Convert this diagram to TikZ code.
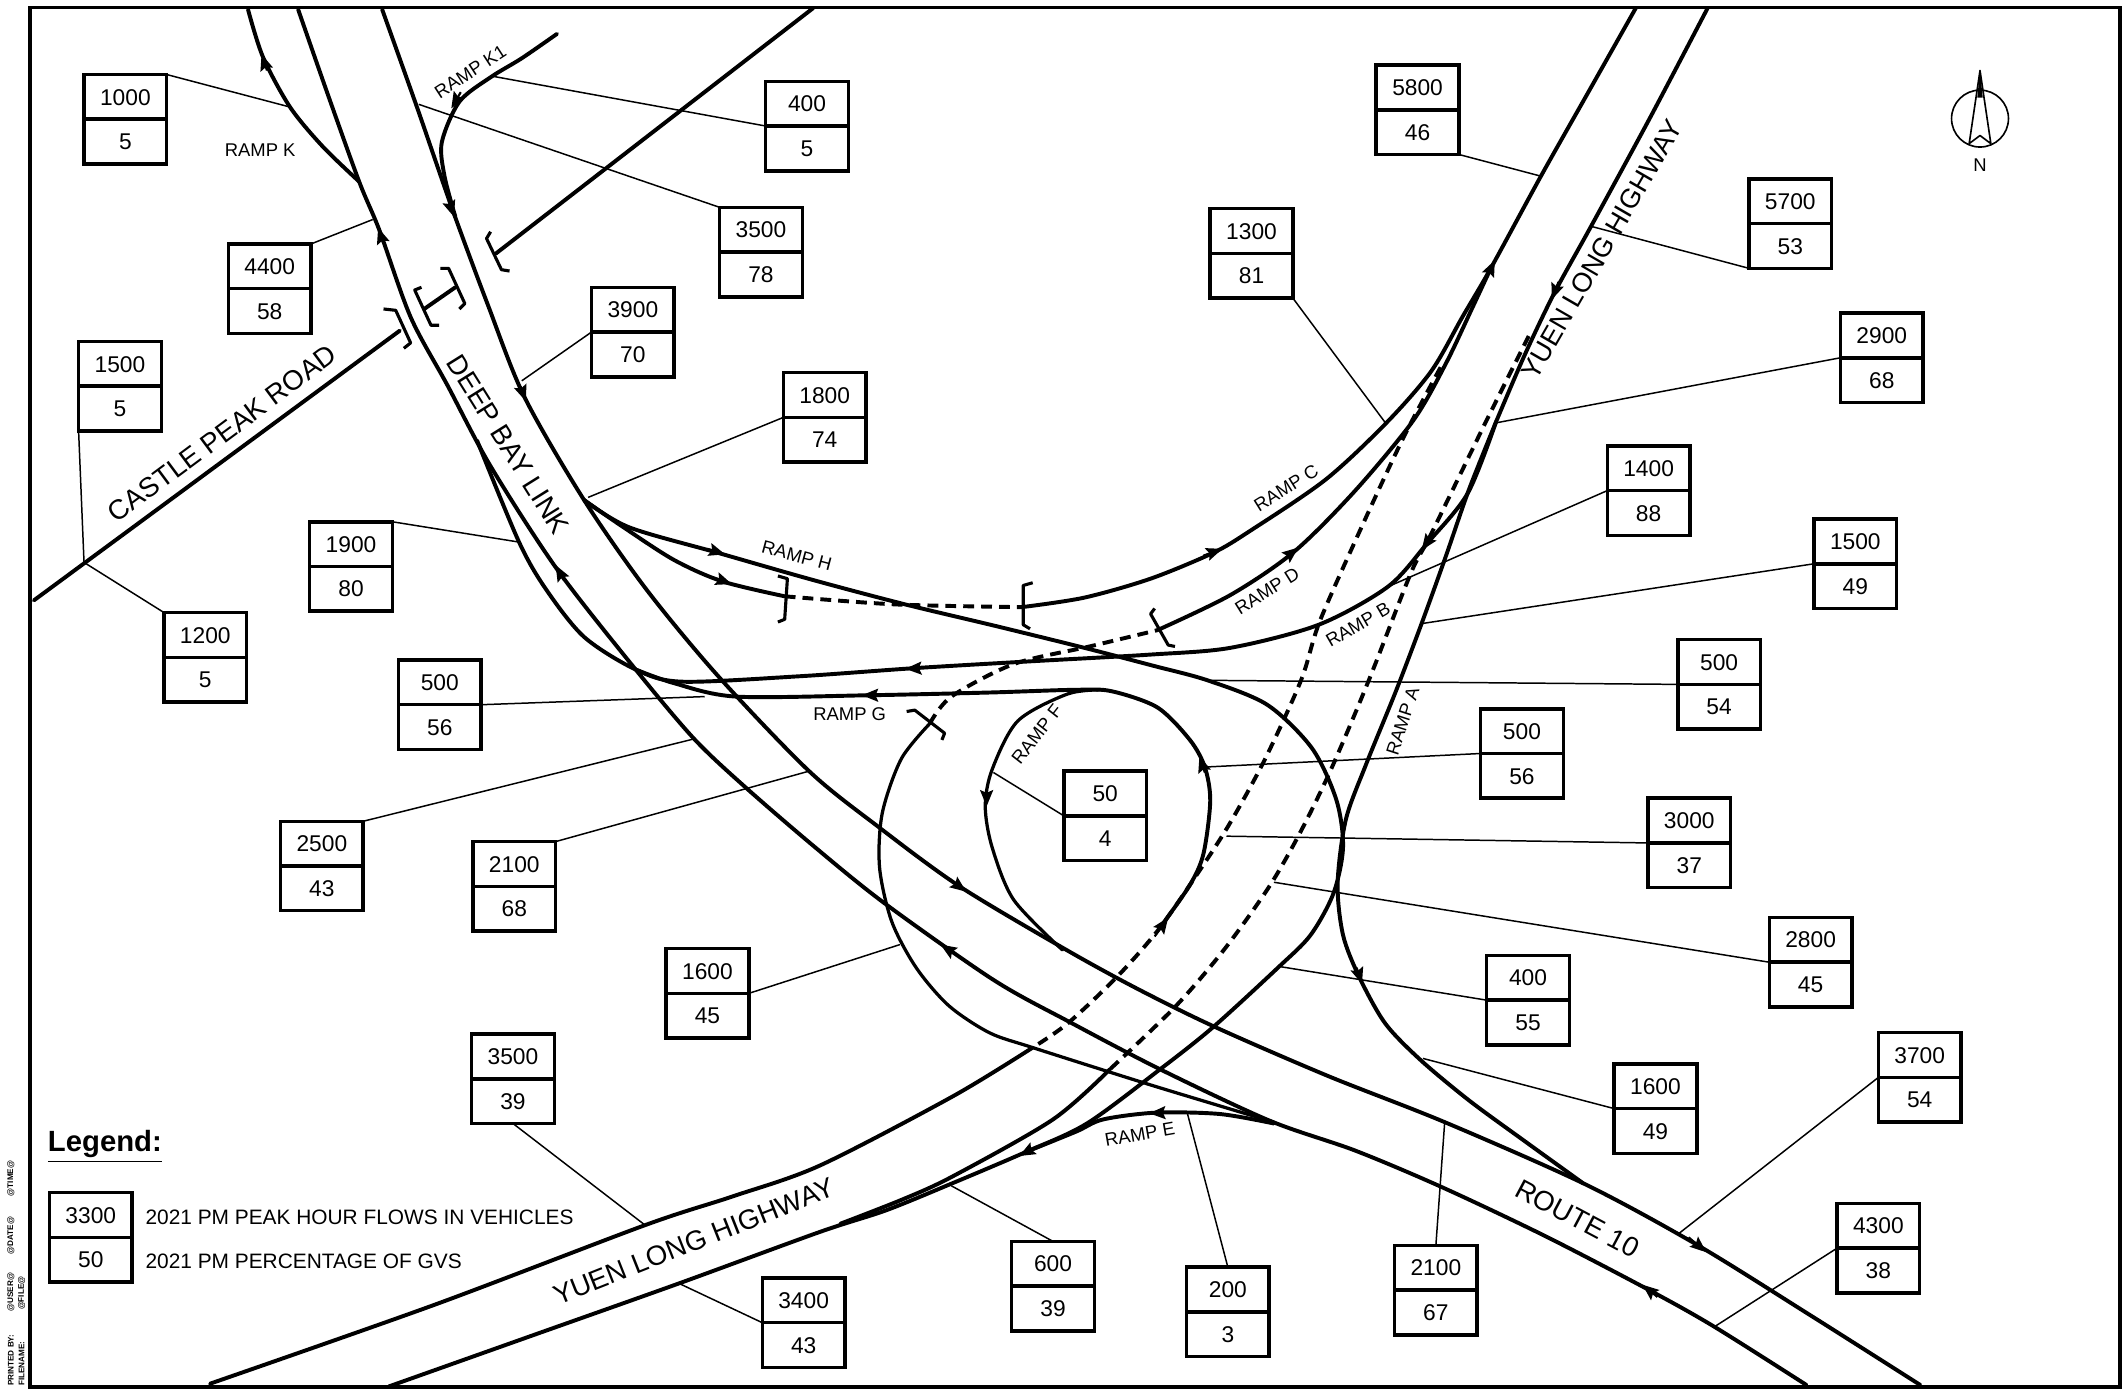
\documentclass[tikz,border=0pt]{standalone}
\usepackage{fontspec}
\setmainfont{Liberation Sans}
\usetikzlibrary{arrows.meta}
\tikzset{
  road/.style={line width=1.45pt, line cap=round, line join=round},
  ringroad/.style={line width=1.2pt, line cap=round, line join=round},
  dashroad/.style={line width=1.45pt, dash pattern=on 4pt off 2.6pt},
  bracket/.style={line width=1.15pt, line join=round},
  leaderline/.style={line width=0.55pt},
  flowpart/.style={draw, line width=1.3pt, minimum width=30.5pt, minimum height=16.5pt, inner sep=0pt, outer sep=0pt, text height=6pt, text depth=0pt, font=\fontsize{8.4}{10}\selectfont},
  roadname/.style={font=\fontsize{10.2}{12}\selectfont, inner sep=0pt},
  rampname/.style={font=\fontsize{6.8}{8}\selectfont, inner sep=0pt},
  marginname/.style={font=\fontsize{3}{3.5}\selectfont\bfseries, rotate=90, anchor=west, inner sep=0pt}
}
\newcommand{\flowbox}[4]{
  \node[flowpart, anchor=south] (#1) at (#2) {#3};
  \node[flowpart, anchor=north] (#1b) at (#2) {#4};
}
\newcommand{\flowline}[3]{
  \coordinate (#2) at (#3);
  \draw[leaderline] (#1) -- (#2);
}
\newcommand{\rdarrow}[2]{
  \draw[-{Stealth[length=6pt,width=4.8pt,inset=1pt]}, line width=0.8pt] (#1) -- (#2);
}
\begin{document}
\begin{tikzpicture}[x=0.5pt, y=-0.5pt]
\useasboundingbox (0,0) rectangle (1568,1025.7);
\draw[line width=1.4pt] (22,5.5) rectangle (1564,1023.5);

\draw[road] plot[smooth] coordinates {(1333,1022) (1265,979) (1217,952) (1140,912) (1064,876) (1000,849) (937,827) (856,789) (789,754) (733,723) (652,666) (600,624) (549,580) (512,545) (469,494) (411,420) (362,344) (330,284) (303,234) (280,170) (265,134) (242,70) (220,7)};
\draw[road] plot[smooth] coordinates {(282,7) (308,80) (334,155) (360,225) (387,293) (431,369) (477,435) (530,499) (597,569) (648,610) (708,654) (787,701) (840,730) (897,758) (980,794) (1066,828) (1170,874) (1253,919) (1335,970) (1417,1022)};
\draw[road] plot[smooth] coordinates {(183,7) (194,42) (214,79) (238,108) (265,134)};
\draw[road] plot[smooth] coordinates {(411,25) (385,43) (362,57) (339,75) (326,105) (328,130) (336,160)};
\draw[road] (25,443) -- (295,244);
\draw[road] (366,187) -- (600,6);
\draw[road] (313,228) -- (336,212);
\draw[bracket] (283,228) -- (292,229) -- (303,253) -- (298,257);
\draw[bracket] (311,212) -- (306,214) -- (318,240) -- (324,240);
\draw[bracket] (325,198) -- (331,198) -- (343,224) -- (339,228);
\draw[bracket] (362,171) -- (359,176) -- (370,199) -- (376,200);

\draw[road] plot[smooth] coordinates {(431,369) (464,389) (530,408) (600,428) (668,446) (735,462) (800,478) (850,491) (891,502) (935,520) (968,552) (986,590) (991,625) (984,659) (967,690) (943,714) (895,758) (856,789) (802,829) (757,850) (703,873) (654,893) (605,909) (501,947) (394,985) (287,1023)};
\draw[road] plot[smooth] coordinates {(431,369) (457,387) (497,413) (533,429) (579,440)};
\draw[dashroad] plot[smooth] coordinates {(579,440) (661,446) (754,448)};
\draw[bracket] (574,425) -- (581,427) -- (579,457) -- (574,459);
\draw[bracket] (762,430) -- (755,432) -- (755,461) -- (760,464);
\draw[road] plot[smooth] coordinates {(754,448) (800,441) (849,427) (895,408) (922,392) (978,354) (1023,312) (1056,274) (1079,234) (1100,198) (1137,130) (1172,68) (1207,6)};
\draw[road] plot[smooth] coordinates {(854,465) (908,439) (955,407) (1000,362) (1043,310) (1067,268) (1086,228) (1100,198)};
\draw[road] plot[smooth] coordinates {(1104,311) (1083,364) (1053,401) (1024,433) (973,461) (908,478) (849,483) (760,488) (675,493) (590,499) (503,503) (469,494) (431,470) (403,435) (383,400) (352,325)};
\draw[road] plot[smooth] coordinates {(1104,311) (1084,361) (1067,410) (1049,460) (1030,510) (1008,564) (993,605) (987,652) (991,690) (1003,721) (1022,755) (1048,782) (1084,812) (1125,842) (1168,873)};
\draw[road] plot[smooth] coordinates {(1260,6) (1218,86) (1174,167) (1147,216) (1125,262) (1104,311)};
\draw[dashroad] plot[smooth] coordinates {(1128,248) (1097,310) (1056,394) (1041,423) (1010,502) (982,568) (959,615) (936,655) (903,701) (867,743) (819,789)};
\draw[road] plot[smooth] coordinates {(819,789) (777,826) (703,868) (666,885) (620,903)};
\draw[dashroad] plot[smooth] coordinates {(1063,271) (1036,322) (1006,386) (974,458) (960,502) (933,561) (906,610) (880,650) (854,687) (824,721) (788,755) (762,773)};
\draw[road] plot[smooth] coordinates {(762,773) (703,809) (605,860) (540,883) (476,904) (320,963) (155,1021)};
\draw[road] plot[smooth] coordinates {(469,494) (497,504) (543,514) (642,513) (730,511) (793,509) (820,510) (854,522) (878,546) (889,566) (893,591) (888,630) (878,653) (857,683)};
\draw[ringroad] plot[smooth] coordinates {(814,509) (788,512) (751,532) (732,568) (727,595) (732,625) (748,664) (784,701)};
\draw[ringroad] plot[smooth] coordinates {(940,828) (900,816) (844,799) (762,773) (730,762) (700,742) (676,714) (658,680) (649,640) (651,600) (665,560) (686,534)};
\draw[dashroad] plot[smooth] coordinates {(686,534) (702,514) (748,490) (804,477) (854,465)};
\draw[bracket] (669,525) -- (675,524) -- (697,541) -- (695,546);
\draw[bracket] (852,449) -- (849,453) -- (862,476) -- (867,477);
\draw[road] plot[smooth] coordinates {(940,829) (900,822) (853,821) (814,826) (794,835) (757,850)};

\rdarrow{197,52}{193,40}
\rdarrow{283,180}{279,168}
\rdarrow{331,148}{335,160}
\rdarrow{340,68}{333,80}
\rdarrow{384,285}{388,296}
\rdarrow{416,428}{410,417}
\rdarrow{522,405}{535,409}
\rdarrow{526,426}{540,431}
\rdarrow{888,410}{902,405}
\rdarrow{948,412}{958,404}
\rdarrow{1097,205}{1103,192}
\rdarrow{1150,208}{1145,221}
\rdarrow{680,493}{668,493.5}
\rdarrow{648,513}{636,513}
\rdarrow{701,649}{713,658}
\rdarrow{705,704}{694,697}
\rdarrow{728,582}{728,595}
\rdarrow{889,570}{885,558}
\rdarrow{852,691}{862,677}
\rdarrow{1001,714}{1005,726}
\rdarrow{860,821}{848,821.5}
\rdarrow{765,846}{752,853}
\rdarrow{1246,913}{1259,924}
\rdarrow{1223,957}{1212,948}
\rdarrow{1056,396}{1049,406}

\flowbox{f1000}{92.5,88}{1000}{5}
\flowbox{f400a}{595.5,93}{400}{5}
\flowbox{f3500a}{561.5,186}{3500}{78}
\flowbox{f5800}{1046,81}{5800}{46}
\flowbox{f1300}{923.5,187}{1300}{81}
\flowbox{f5700}{1321,165}{5700}{53}
\flowbox{f4400}{199,213}{4400}{58}
\flowbox{f3900}{467,245}{3900}{70}
\flowbox{f1500a}{88.5,285}{1500}{5}
\flowbox{f1800}{608.5,308}{1800}{74}
\flowbox{f2900}{1388.5,264}{2900}{68}
\flowbox{f1400}{1216.5,362}{1400}{88}
\flowbox{f1500b}{1369,416}{1500}{49}
\flowbox{f1900}{259,418}{1900}{80}
\flowbox{f1200}{151.5,485}{1200}{5}
\flowbox{f500a}{1268.5,505}{500}{54}
\flowbox{f500b}{324.5,520}{500}{56}
\flowbox{f500c}{1123,556}{500}{56}
\flowbox{f50}{815.5,602}{50}{4}
\flowbox{f3000}{1246.5,622}{3000}{37}
\flowbox{f2500}{237.5,639}{2500}{43}
\flowbox{f2100a}{379.5,654}{2100}{68}
\flowbox{f2800}{1336,710}{2800}{45}
\flowbox{f1600a}{522,733}{1600}{45}
\flowbox{f400b}{1127.5,738}{400}{55}
\flowbox{f3500b}{378.5,796}{3500}{39}
\flowbox{f3700}{1416.5,795}{3700}{54}
\flowbox{f1600b}{1221.5,818}{1600}{49}
\flowbox{f3300}{67,913}{3300}{50}
\flowbox{f4300}{1386,921}{4300}{38}
\flowbox{f600}{777,949}{600}{39}
\flowbox{f200}{906,968}{200}{3}
\flowbox{f2100b}{1059.5,952}{2100}{67}
\flowbox{f3400}{593,976}{3400}{43}

\flowline{f1000.north east}{e1000}{214,79}
\flowline{f400a.south west}{e400a}{362,56}
\flowline{f3500a.north west}{e3500a}{309,77}
\flowline{f5800b.south east}{e5800}{1137,130}
\flowline{f1300b.south east}{e1300}{1023,313}
\flowline{f5700b.south west}{e5700}{1174,167}
\flowline{f4400.north east}{e4400}{275,162}
\flowline{f3900.south west}{e3900}{385,281}
\flowline{f1500ab.south west}{e1500a}{62,415}
\flowline{f1200.north west}{e1200}{62,415}
\flowline{f1800.south west}{e1800}{434,367}
\flowline{f2900.south west}{e2900}{1104,312}
\flowline{f1400.south west}{e1400}{1024,433}
\flowline{f1500b.south west}{e1500b}{1050,460}
\flowline{f1900.north east}{e1900}{383,400}
\flowline{f500a.south west}{e500a}{891,502}
\flowline{f500b.south east}{e500b}{520,514}
\flowline{f500c.south west}{e500c}{889,566}
\flowline{f50.south west}{e50}{733,570}
\flowline{f3000.south west}{e3000}{905,617}
\flowline{f2500.north east}{e2500}{513,545}
\flowline{f2100a.north east}{e2100a}{597,569}
\flowline{f2800.south west}{e2800}{940,651}
\flowline{f1600a.south east}{e1600a}{664,697}
\flowline{f400b.south west}{e400b}{943,713}
\flowline{f3500bb.south}{e3500b}{476,904}
\flowline{f3700.south west}{e3700}{1239,910}
\flowline{f1600b.south west}{e1600b}{1050,781}
\flowline{f4300.south west}{e4300}{1265,979}
\flowline{f600.north}{e600}{702,875}
\flowline{f200.north}{e200}{876,821}
\flowline{f2100b.north}{e2100b}{1066,828}
\flowline{f3400.south west}{e3400}{501,947}

\node[roadname, rotate=36.6] (castlepeak) at (164,320) {CASTLE PEAK ROAD};
\node[roadname, rotate=-58] (deepbay) at (375,328) {DEEP BAY LINK};
\node[roadname, rotate=60, font=\fontsize{10}{12}\selectfont] (yuenlongn) at (1182,184) {YUEN LONG HIGHWAY};
\node[roadname, rotate=21.6] (yuenlongs) at (512,916) {YUEN LONG HIGHWAY};
\node[roadname, rotate=-28] (route10) at (1164,899) {ROUTE 10};
\node[rampname] (rampk) at (192,111) {RAMP K};
\node[rampname, rotate=33] (rampka) at (347,53) {RAMP K1};
\node[rampname, rotate=-15] (ramph) at (588,410) {RAMP H};
\node[rampname, rotate=32] (rampc) at (949,360) {RAMP C};
\node[rampname, rotate=32] (rampd) at (935,436) {RAMP D};
\node[rampname, rotate=30] (rampb) at (1002,461) {RAMP B};
\node[rampname, rotate=72] (rampa) at (1035,532) {RAMP A};
\node[rampname] (rampg) at (627,527) {RAMP G};
\node[rampname, rotate=52] (rampf) at (765,542) {RAMP F};
\node[rampname, rotate=10] (rampe) at (841,837) {RAMP E};

\node[font=\fontsize{10.8}{13}\selectfont\bfseries, anchor=west, inner sep=0pt] (legend) at (35,846) {\underline{Legend:}};
\node[font=\fontsize{7.7}{10}\selectfont, anchor=west, inner sep=0pt] (legendflow) at (107,898) {2021 PM PEAK HOUR FLOWS IN VEHICLES};
\node[font=\fontsize{7.7}{10}\selectfont, anchor=west, inner sep=0pt] (legendgvs) at (107,930.5) {2021 PM PERCENTAGE OF GVS};

\draw[line width=0.6pt] (1461,87.5) circle (21);
\draw[line width=0.6pt, line join=round] (1461,52) -- (1469,106) -- (1461,100) -- (1453,106) -- cycle;
\fill (1461,52) -- (1463,72) -- (1459,72) -- cycle;
\node[font=\fontsize{6.8}{8}\selectfont, inner sep=0pt] (north) at (1461,122) {N};

\node[marginname] (printed) at (8,1023) {PRINTED BY:};
\node[marginname] (pruser) at (8,968) {@USER@};
\node[marginname] (prdate) at (8,926) {@DATE@};
\node[marginname] (prtime) at (8,883) {@TIME@};
\node[marginname] (filename) at (16,1023) {FILENAME:};
\node[marginname] (prfile) at (16,967) {@FILE@};
\end{tikzpicture}
\end{document}
